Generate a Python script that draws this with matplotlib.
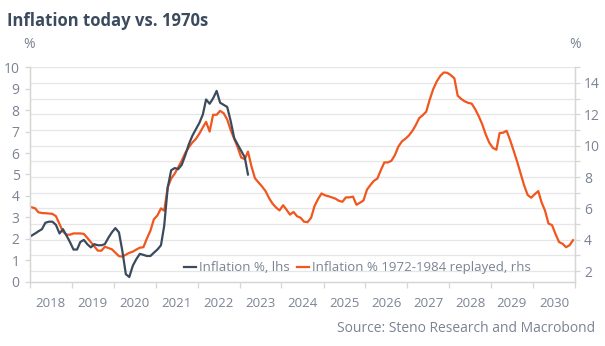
import numpy as np
import pandas as pd
import matplotlib
matplotlib.use("Agg")
import matplotlib.pyplot as plt
import matplotlib.dates as mdates

# ---------------- data ----------------
# Inflation %, lhs (monthly from Jan 2018)
inflation_today = [
    2.15, 2.25, 2.35, 2.45, 2.75, 2.8, 2.8, 2.65, 2.25, 2.45, 2.15, 1.85,
    1.5, 1.5, 1.85, 1.95, 1.75, 1.6, 1.75, 1.7, 1.7, 1.75, 2.05, 2.3,
    2.5, 2.3, 1.45, 0.35, 0.22, 0.75, 1.05, 1.3, 1.25, 1.2, 1.2, 1.35,
    1.5, 1.7, 2.6, 4.4, 5.2, 5.3, 5.25, 5.45, 5.9, 6.4, 6.8, 7.1,
    7.4, 7.8, 8.5, 8.3, 8.55, 8.9, 8.35, 8.25, 8.15, 7.5, 6.7, 6.4,
    6.1, 5.8, 5.0,
]

# Inflation % 1972-1984 replayed, rhs (monthly from Jan 2018)
inflation_replayed = [
    6.07, 6.0, 5.75, 5.7, 5.69, 5.67, 5.65, 5.5, 5.0, 4.52, 4.32, 4.32,
    4.4, 4.4, 4.4, 4.37, 4.12, 3.84, 3.57, 3.3, 3.3, 3.55, 3.47, 3.39,
    3.17, 2.95, 2.92, 3.04, 3.16, 3.24, 3.37, 3.49, 3.52, 4.07, 4.57, 5.3,
    5.55, 6.0, 5.85, 7.35, 7.9, 8.22, 8.63, 9.04, 9.54, 9.89, 10.2, 10.42,
    10.76, 11.17, 11.52, 10.9, 11.97, 11.97, 12.22, 12.07, 11.67, 11.0, 10.45, 9.9,
    9.24, 9.14, 9.62, 8.66, 7.92, 7.65, 7.4, 7.1, 6.65, 6.3, 6.05, 5.87,
    6.2, 5.9, 5.6, 5.77, 5.5, 5.4, 5.15, 5.12, 5.4, 6.15, 6.6, 6.95,
    6.83, 6.77, 6.7, 6.62, 6.48, 6.42, 6.7, 6.7, 6.75, 6.23, 6.36, 6.5,
    7.2, 7.5, 7.75, 7.9, 8.43, 8.93, 8.93, 9.03, 9.4, 9.94, 10.27, 10.44,
    10.65, 10.95, 11.3, 11.76, 11.94, 12.17, 12.93, 13.61, 14.1, 14.45, 14.67, 14.65,
    14.5, 14.3, 13.19, 12.98, 12.83, 12.73, 12.68, 12.32, 11.87, 11.36, 10.7, 10.19,
    9.86, 9.74, 10.8, 10.83, 10.95, 10.35, 9.69, 8.98, 8.22, 7.46, 6.85, 6.68,
    6.9, 7.1, 6.4, 5.85, 5.03, 4.93, 4.37, 3.85, 3.74, 3.52, 3.65, 3.97,
]

left_ticks = list(range(0, 11))
right_ticks = [2, 4, 6, 8, 10, 12, 14]

# ---------------- style ----------------
plt.rcParams['font.family'] = ['Open Sans', 'DejaVu Sans']
DARK = '#3c4a5e'
ORANGE = '#f0561e'
GREY_TXT = '#7b8394'
GRID = '#e6e6e6'
SPINE = '#d6d6d6'

dates_today = pd.date_range("2018-01-01", periods=len(inflation_today), freq="MS") + pd.Timedelta(days=14)
dates_replay = pd.date_range("2018-01-01", periods=len(inflation_replayed), freq="MS") + pd.Timedelta(days=14)

fig = plt.figure(figsize=(6.05, 3.46), dpi=100)
ax = fig.add_axes([30 / 605, 1 - 281.7 / 346, 545 / 605, 214.4 / 346])
ax2 = ax.twinx()

# right axis (gridlines + orange)
ax2.plot(dates_replay, inflation_replayed, color=ORANGE, lw=1.6, solid_joinstyle='round')
ax2.set_ylim(1.32, 15.0)
ax2.set_yticks(right_ticks)
ax2.set_yticks(range(2, 16), minor=True)
ax2.grid(True, which='both', axis='y', color=GRID, lw=0.9)
ax2.set_axisbelow(True)

# left axis (dark line) drawn on top
ax.set_zorder(2)
ax.patch.set_visible(False)
ax.plot(dates_today, inflation_today, color=DARK, lw=1.6, solid_joinstyle='round', label='Inflation %, lhs')
ax.plot([], [], color=ORANGE, lw=1.6, label='Inflation % 1972-1984 replayed, rhs')
ax.set_ylim(0, 10)
ax.set_yticks(left_ticks)

ax.set_xlim(pd.Timestamp("2018-01-01"), pd.Timestamp("2031-01-01"))
ax.xaxis.set_major_locator(mdates.YearLocator())
ax.xaxis.set_major_formatter(plt.NullFormatter())
ax.xaxis.set_minor_locator(mdates.MonthLocator(bymonth=7))
ax.xaxis.set_minor_formatter(mdates.DateFormatter('%Y'))

for a in (ax, ax2):
    for s in a.spines.values():
        s.set_color(SPINE)
        s.set_linewidth(0.9)
    a.spines['top'].set_visible(False)

ax.tick_params(axis='x', which='major', length=4, color=SPINE, width=0.9)
ax.tick_params(axis='x', which='minor', length=0, pad=11, labelsize=9.5, labelcolor=GREY_TXT)
ax.tick_params(axis='y', length=3.5, color=SPINE, width=0.9, pad=4, labelsize=10, labelcolor=GREY_TXT)
ax2.tick_params(axis='y', which='both', length=3.5, color=SPINE, width=0.9)
ax2.tick_params(axis='y', which='major', pad=3, labelsize=10, labelcolor=GREY_TXT)

leg = ax.legend(loc='center', bbox_to_anchor=(0.601, 0.065), ncol=2, frameon=False,
                handlelength=0.9, handletextpad=0.2, columnspacing=0.6,
                fontsize=9.5, borderpad=0)
for t in leg.get_texts():
    t.set_color(GREY_TXT)

# texts
fig.text(7 / 605, 1 - 26 / 346, 'Inflation today vs. 1970s', fontsize=12, fontweight='bold',
         color=DARK, va='baseline', ha='left')
fig.text(29 / 605, 1 - 45 / 346, '%', fontsize=10, color=GREY_TXT, ha='center', va='center')
fig.text(575 / 605, 1 - 45 / 346, '%', fontsize=10, color=GREY_TXT, ha='center', va='center')
fig.text(595 / 605, 1 - 331.7 / 346, 'Source: Steno Research and Macrobond', fontsize=10,
         color=GREY_TXT, ha='right', va='baseline')

fig.savefig('out.png', dpi=100, facecolor='white')
